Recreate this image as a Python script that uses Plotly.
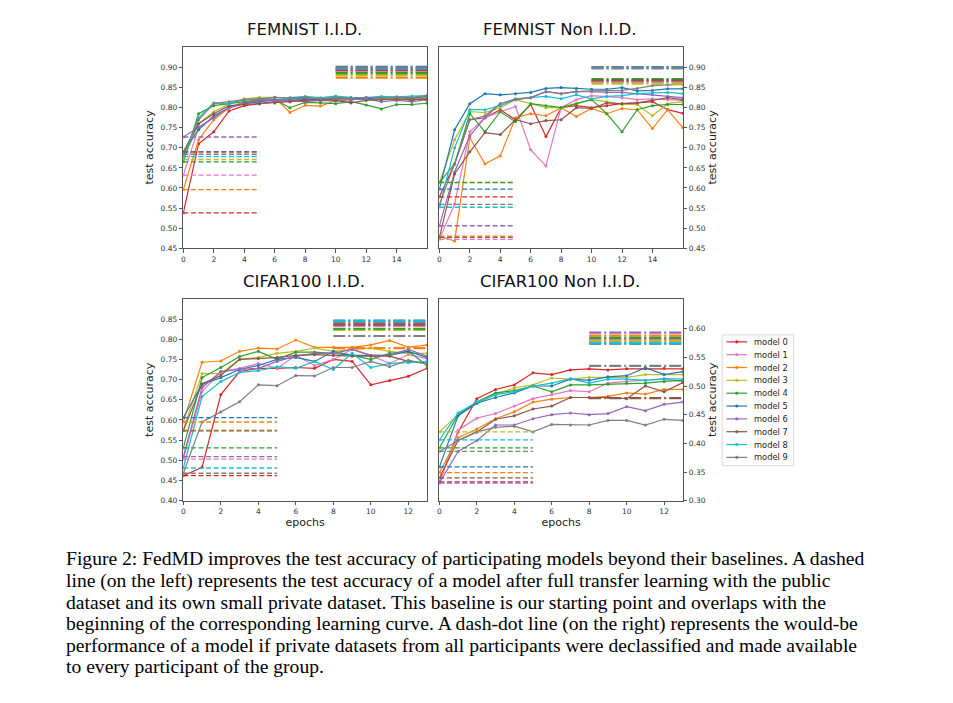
import plotly.graph_objects as go

# ---------------- data ----------------
MODEL_NAMES = [f"model {i}" for i in range(10)]
EPOCHS_FEMNIST = list(range(17))
EPOCHS_CIFAR = list(range(14))

BASE_SPAN_FEMNIST = [0, 5]
UPPER_SPAN_FEMNIST = [10, 16]
BASE_SPAN_CIFAR = [0, 5]
UPPER_SPAN_CIFAR = [8, 13]

FEMNIST_IID_CURVES = [
    [0.538, 0.710, 0.740, 0.792, 0.805, 0.810, 0.815, 0.818, 0.820, 0.818, 0.822, 0.820, 0.822, 0.821, 0.823, 0.818, 0.825],
    [0.632, 0.750, 0.775, 0.800, 0.810, 0.815, 0.818, 0.815, 0.818, 0.820, 0.818, 0.822, 0.823, 0.822, 0.822, 0.820, 0.822],
    [0.596, 0.720, 0.770, 0.800, 0.815, 0.820, 0.825, 0.788, 0.806, 0.804, 0.818, 0.822, 0.823, 0.825, 0.818, 0.822, 0.818],
    [0.671, 0.760, 0.790, 0.810, 0.822, 0.826, 0.826, 0.824, 0.825, 0.823, 0.826, 0.824, 0.825, 0.822, 0.824, 0.823, 0.825],
    [0.665, 0.785, 0.805, 0.810, 0.815, 0.818, 0.820, 0.800, 0.813, 0.812, 0.810, 0.815, 0.807, 0.797, 0.808, 0.808, 0.811],
    [0.690, 0.745, 0.780, 0.800, 0.810, 0.815, 0.820, 0.822, 0.822, 0.822, 0.824, 0.823, 0.822, 0.826, 0.826, 0.824, 0.828],
    [0.727, 0.752, 0.775, 0.800, 0.812, 0.818, 0.820, 0.818, 0.815, 0.818, 0.816, 0.820, 0.822, 0.815, 0.818, 0.815, 0.820],
    [0.690, 0.760, 0.785, 0.805, 0.808, 0.810, 0.812, 0.815, 0.818, 0.820, 0.818, 0.812, 0.818, 0.820, 0.822, 0.820, 0.822],
    [0.678, 0.775, 0.812, 0.810, 0.820, 0.822, 0.825, 0.825, 0.828, 0.825, 0.829, 0.826, 0.825, 0.828, 0.827, 0.829, 0.830],
    [0.684, 0.770, 0.810, 0.815, 0.820, 0.822, 0.826, 0.824, 0.826, 0.822, 0.825, 0.823, 0.826, 0.824, 0.826, 0.825, 0.831],
]
FEMNIST_IID_BASE = [0.538, 0.632, 0.596, 0.671, 0.665, 0.690, 0.727, 0.690, 0.678, 0.684]
FEMNIST_IID_UPPER = [0.891, 0.889, 0.875, 0.881, 0.886, 0.902, 0.897, 0.895, 0.898, 0.900]

FEMNIST_NONIID_CURVES = [
    [0.578, 0.660, 0.770, 0.775, 0.795, 0.770, 0.808, 0.728, 0.800, 0.805, 0.800, 0.805, 0.810, 0.812, 0.815, 0.795, 0.786],
    [0.472, 0.560, 0.740, 0.775, 0.790, 0.803, 0.695, 0.655, 0.800, 0.820, 0.830, 0.828, 0.825, 0.820, 0.822, 0.820, 0.818],
    [0.480, 0.468, 0.725, 0.660, 0.680, 0.775, 0.785, 0.780, 0.800, 0.778, 0.798, 0.785, 0.798, 0.795, 0.748, 0.795, 0.750],
    [0.613, 0.720, 0.790, 0.788, 0.800, 0.820, 0.810, 0.800, 0.800, 0.810, 0.820, 0.815, 0.808, 0.808, 0.780, 0.810, 0.815],
    [0.614, 0.660, 0.785, 0.740, 0.790, 0.765, 0.810, 0.805, 0.800, 0.810, 0.820, 0.785, 0.740, 0.795, 0.805, 0.808, 0.808],
    [0.597, 0.745, 0.810, 0.835, 0.832, 0.835, 0.838, 0.848, 0.850, 0.848, 0.846, 0.846, 0.850, 0.842, 0.843, 0.847, 0.847],
    [0.506, 0.640, 0.730, 0.775, 0.810, 0.822, 0.825, 0.840, 0.835, 0.840, 0.840, 0.838, 0.838, 0.835, 0.832, 0.828, 0.825],
    [0.477, 0.635, 0.690, 0.738, 0.733, 0.770, 0.760, 0.768, 0.770, 0.800, 0.798, 0.812, 0.810, 0.812, 0.818, 0.825, 0.820],
    [0.552, 0.700, 0.795, 0.795, 0.805, 0.820, 0.825, 0.828, 0.822, 0.832, 0.822, 0.828, 0.830, 0.835, 0.837, 0.838, 0.835],
    [0.559, 0.660, 0.770, 0.780, 0.810, 0.820, 0.825, 0.840, 0.835, 0.840, 0.842, 0.843, 0.843, 0.848, 0.855, 0.857, 0.858],
]
FEMNIST_NONIID_BASE = [0.578, 0.472, 0.480, 0.613, 0.614, 0.597, 0.506, 0.477, 0.552, 0.559]
FEMNIST_NONIID_UPPER = [0.866, 0.864, 0.869, 0.860, 0.871, 0.901, 0.898, 0.868, 0.900, 0.899]

CIFAR_IID_CURVES = [
    [0.462, 0.483, 0.663, 0.720, 0.728, 0.728, 0.730, 0.728, 0.750, 0.745, 0.687, 0.698, 0.708, 0.728],
    [0.503, 0.670, 0.720, 0.728, 0.740, 0.728, 0.760, 0.735, 0.750, 0.775, 0.760, 0.740, 0.762, 0.752],
    [0.595, 0.743, 0.746, 0.770, 0.778, 0.776, 0.798, 0.780, 0.780, 0.780, 0.786, 0.797, 0.780, 0.786],
    [0.575, 0.715, 0.715, 0.750, 0.755, 0.765, 0.770, 0.778, 0.770, 0.775, 0.778, 0.770, 0.765, 0.765],
    [0.531, 0.705, 0.730, 0.757, 0.770, 0.750, 0.768, 0.768, 0.765, 0.760, 0.750, 0.765, 0.770, 0.735],
    [0.606, 0.688, 0.705, 0.725, 0.735, 0.750, 0.755, 0.745, 0.770, 0.760, 0.760, 0.760, 0.770, 0.755],
    [0.509, 0.680, 0.720, 0.725, 0.728, 0.745, 0.758, 0.765, 0.765, 0.775, 0.760, 0.760, 0.775, 0.758],
    [0.573, 0.690, 0.710, 0.750, 0.752, 0.755, 0.760, 0.762, 0.760, 0.758, 0.758, 0.758, 0.745, 0.740],
    [0.481, 0.658, 0.695, 0.718, 0.722, 0.732, 0.728, 0.745, 0.725, 0.765, 0.730, 0.740, 0.742, 0.745],
    [0.468, 0.595, 0.620, 0.645, 0.687, 0.685, 0.710, 0.709, 0.730, 0.730, 0.745, 0.732, 0.748, 0.738],
]
CIFAR_IID_BASE = [0.462, 0.503, 0.595, 0.575, 0.531, 0.606, 0.509, 0.573, 0.481, 0.468]
CIFAR_IID_UPPER = [0.837, 0.833, 0.778, 0.823, 0.826, 0.846, 0.843, 0.836, 0.845, 0.808]

CIFAR_NONIID_CURVES = [
    [0.333, 0.420, 0.478, 0.494, 0.502, 0.523, 0.520, 0.528, 0.530, 0.528, 0.530, 0.530, 0.531, 0.530],
    [0.331, 0.423, 0.444, 0.452, 0.465, 0.478, 0.485, 0.492, 0.490, 0.505, 0.508, 0.510, 0.512, 0.508],
    [0.349, 0.410, 0.425, 0.443, 0.455, 0.472, 0.477, 0.480, 0.480, 0.482, 0.488, 0.486, 0.494, 0.494],
    [0.420, 0.450, 0.470, 0.485, 0.497, 0.502, 0.514, 0.512, 0.515, 0.515, 0.515, 0.520, 0.520, 0.520],
    [0.392, 0.450, 0.472, 0.488, 0.492, 0.500, 0.490, 0.502, 0.502, 0.503, 0.505, 0.505, 0.508, 0.510],
    [0.359, 0.448, 0.470, 0.480, 0.488, 0.500, 0.500, 0.512, 0.510, 0.516, 0.518, 0.532, 0.520, 0.525],
    [0.331, 0.386, 0.405, 0.432, 0.432, 0.443, 0.450, 0.453, 0.450, 0.452, 0.464, 0.457, 0.468, 0.472],
    [0.340, 0.405, 0.420, 0.442, 0.448, 0.460, 0.465, 0.480, 0.480, 0.480, 0.478, 0.500, 0.490, 0.506],
    [0.406, 0.453, 0.472, 0.485, 0.490, 0.500, 0.505, 0.513, 0.505, 0.512, 0.512, 0.510, 0.513, 0.512],
    [0.386, 0.405, 0.420, 0.428, 0.430, 0.420, 0.433, 0.432, 0.432, 0.440, 0.440, 0.432, 0.442, 0.440],
]
CIFAR_NONIID_BASE = [0.333, 0.331, 0.349, 0.420, 0.392, 0.359, 0.331, 0.340, 0.406, 0.386]
CIFAR_NONIID_UPPER = [0.580, 0.581, 0.588, 0.578, 0.584, 0.574, 0.593, 0.479, 0.575, 0.535]

PANEL_TITLES = ["FEMNIST I.I.D.", "FEMNIST Non I.I.D.", "CIFAR100 I.I.D.", "CIFAR100 Non I.I.D."]
CAPTION_LINES = [
    "Figure 2: FedMD improves the test accuracy of participating models beyond their baselines. A dashed",
    "line (on the left) represents the test accuracy of a model after full transfer learning with the public",
    "dataset and its own small private dataset. This baseline is our starting point and overlaps with the",
    "beginning of the corresponding learning curve. A dash-dot line (on the right) represents the would-be",
    "performance of a model if private datasets from all participants were declassified and made available",
    "to every participant of the group.",
]

# ---------------- style ----------------
COLORS = ["#d62728", "#e377c2", "#ff7f0e", "#bcbd22", "#2ca02c",
          "#1f77b4", "#9467bd", "#8c564b", "#17becf", "#7f7f7f"]
W, H = 953, 703
TICK_FONT = dict(family="DejaVu Sans", size=7.5, color="#333")
LABEL_FONT = dict(family="DejaVu Sans", size=11, color="#222")
AX_COLOR = "#555"


def px(x):
    return x / W


def py(y):
    return 1 - y / H


panels = [
    (EPOCHS_FEMNIST, FEMNIST_IID_CURVES, FEMNIST_IID_BASE, FEMNIST_IID_UPPER, BASE_SPAN_FEMNIST, UPPER_SPAN_FEMNIST),
    (EPOCHS_FEMNIST, FEMNIST_NONIID_CURVES, FEMNIST_NONIID_BASE, FEMNIST_NONIID_UPPER, BASE_SPAN_FEMNIST, UPPER_SPAN_FEMNIST),
    (EPOCHS_CIFAR, CIFAR_IID_CURVES, CIFAR_IID_BASE, CIFAR_IID_UPPER, BASE_SPAN_CIFAR, UPPER_SPAN_CIFAR),
    (EPOCHS_CIFAR, CIFAR_NONIID_CURVES, CIFAR_NONIID_BASE, CIFAR_NONIID_UPPER, BASE_SPAN_CIFAR, UPPER_SPAN_CIFAR),
]

fig = go.Figure()
for p, (epochs, curves, base, upper, bspan, uspan) in enumerate(panels):
    xa = "x" if p == 0 else f"x{p+1}"
    ya = "y" if p == 0 else f"y{p+1}"
    for m in range(10):
        c = COLORS[m]
        fig.add_trace(go.Scatter(x=epochs, y=curves[m], xaxis=xa, yaxis=ya, mode="lines+markers",
                                 line=dict(color=c, width=1.2), marker=dict(color=c, size=3),
                                 name=MODEL_NAMES[m], showlegend=False, hoverinfo="skip"))
    for m in range(10):
        c = COLORS[m]
        fig.add_trace(go.Scatter(x=bspan, y=[base[m], base[m]], xaxis=xa, yaxis=ya, mode="lines",
                                 line=dict(color=c, width=1.3, dash="5px,2.6px"),
                                 showlegend=False, hoverinfo="skip"))
    for m in range(10):
        c = COLORS[m]
        fig.add_trace(go.Scatter(x=uspan, y=[upper[m], upper[m]], xaxis=xa, yaxis=ya, mode="lines",
                                 line=dict(color=c, width=2.2, dash="12px,3px,2px,3px"),
                                 showlegend=False, hoverinfo="skip"))

# ---------------- axes ----------------
X_DOM = [[px(181.7), px(426.0)], [px(438.3), px(682.3)]]
Y_DOM = [[py(250.0), py(47.0)], [py(504.3), py(301.0)]]
X_RANGES = [[0, 16], [0, 16], [0, 13], [0, 13]]
Y_RANGES = [[0.45, 0.952], [0.45, 0.952], [0.40, 0.90], [0.30, 0.652]]
X_TICKS = [list(range(0, 16, 2)), list(range(0, 16, 2)), list(range(0, 13, 2)), list(range(0, 13, 2))]
Y_TICKS = [[0.45 + 0.05 * i for i in range(10)], [0.45 + 0.05 * i for i in range(10)],
           [0.40 + 0.05 * i for i in range(10)], [0.30 + 0.05 * i for i in range(7)]]

common = dict(showline=True, mirror=True, linecolor=AX_COLOR, linewidth=1, showgrid=False, zeroline=False,
              ticks="outside", ticklen=3.5, tickwidth=0.8, tickcolor=AX_COLOR, tickfont=TICK_FONT)
layout = {}
for p in range(4):
    row, col = p // 2, p % 2
    xk = "xaxis" if p == 0 else f"xaxis{p+1}"
    yk = "yaxis" if p == 0 else f"yaxis{p+1}"
    xa = dict(common, domain=X_DOM[col], range=X_RANGES[p], tickvals=X_TICKS[p],
              anchor="y" if p == 0 else f"y{p+1}")
    if row == 1:
        xa["title"] = dict(text="epochs", font=LABEL_FONT, standoff=2)
    ya = dict(common, domain=Y_DOM[row], range=Y_RANGES[p], tickvals=Y_TICKS[p], tickformat=".2f",
              anchor="x" if p == 0 else f"x{p+1}", side="left" if col == 0 else "right",
              title=dict(text="test accuracy", font=LABEL_FONT, standoff=4 if col == 0 else 2))
    layout[xk] = xa
    layout[yk] = ya

annotations = []
TITLE_POS = [(303, 30), (559, 30), (303, 284), (559, 284)]
for t, (tx, ty) in zip(PANEL_TITLES, TITLE_POS):
    annotations.append(dict(text=t, x=px(tx), y=py(ty), xref="paper", yref="paper", showarrow=False,
                            xanchor="center", yanchor="middle",
                            font=dict(family="DejaVu Sans", size=16.5, color="#111")))

# legend (drawn manually to match matplotlib's compact spacing)
shapes = [dict(type="rect", xref="paper", yref="paper", x0=px(721.7), x1=px(793.3), y0=py(469), y1=py(337.3),
               line=dict(color="#d8d8d8", width=1), fillcolor="white", layer="above")]
for m in range(10):
    yy = 344.3 + m * 12.93
    shapes.append(dict(type="line", xref="paper", yref="paper", x0=px(726), x1=px(746.7), y0=py(yy), y1=py(yy),
                       line=dict(color=COLORS[m], width=1.2), layer="above"))
    shapes.append(dict(type="circle", xref="paper", yref="paper", x0=px(735), x1=px(737.6), y0=py(yy + 1.3),
                       y1=py(yy - 1.3), line=dict(color=COLORS[m], width=0.5), fillcolor=COLORS[m], layer="above"))
    annotations.append(dict(text=MODEL_NAMES[m], x=px(752), y=py(yy), xref="paper", yref="paper",
                            showarrow=False, xanchor="left", yanchor="middle",
                            font=dict(family="DejaVu Sans", size=8.3, color="#222")))

for i, line in enumerate(CAPTION_LINES):
    annotations.append(dict(text=line, x=px(62), y=py(563 + i * 21.7), xref="paper", yref="paper",
                            showarrow=False, xanchor="left", yanchor="middle",
                            font=dict(family="Liberation Serif", size=19.6, color="#000")))

fig.update_layout(width=W, height=H, margin=dict(l=0, r=0, t=0, b=0), paper_bgcolor="white",
                  plot_bgcolor="white", showlegend=False, annotations=annotations, shapes=shapes, **layout)

fig.write_html("out.html")
